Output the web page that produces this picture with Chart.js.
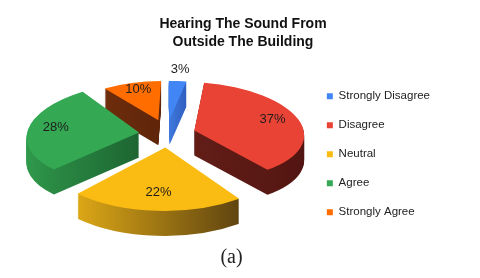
<!DOCTYPE html>
<html><head><meta charset="utf-8">
<script src="https://cdn.jsdelivr.net/npm/chart.js@4.4.1/dist/chart.umd.min.js"></script>
<style>
html,body{margin:0;padding:0;background:#fff;}
#wrap{position:relative;width:480px;height:278px;overflow:hidden;}
#cap{position:absolute;left:0;width:463px;top:243px;text-align:center;font-family:"Liberation Serif","Times New Roman",serif;font-size:20px;line-height:26px;color:#222;}
</style></head><body>
<div id="wrap"><canvas id="c" width="480" height="278"></canvas><div id="cap"></div></div>
<script>
// ---- data ----
const titleLines = ['Hearing The Sound From', 'Outside The Building'];
const categories = ['Strongly Disagree', 'Disagree', 'Neutral', 'Agree', 'Strongly Agree'];
const percentValues = [3, 37, 22, 28, 10];
const caption = '(a)';

// ---- styles ----
const topColors = ['#4285F4', '#E84335', '#FABC12', '#34A853', '#FF6D01'];
const wallStops = [
  ['#3f78dc', '#2f5fbf'],
  ['#621d17', '#521511'],
  ['#dca716', '#5f4410'],
  ['#309a4b', '#1d6532'],
  ['#6e2d0c', '#5f250a']
];
// 3D look: centre of explosion, explode distance, radius/aspect vs. depth, shear
const PIE = {cx: 167, cy: 133.5, explode: 28, kExplode: 0.5,
             rP: 113, rQ: -16.5, rS: -2.4, kBase: 0.455, kSlope: 0.045,
             shear: 0.23, depth: 25};

document.getElementById('cap').textContent = caption;

function sliceGeom(el) {
  const mid = (el.startAngle + el.endAngle) / 2;
  const back = -Math.sin(mid);             // +1 = far side, -1 = near side
  const rx = PIE.rP + PIE.rQ * back + PIE.rS * back * back;
  const ry = rx * (PIE.kBase - PIE.kSlope * back);
  const ax = PIE.cx + Math.cos(mid) * PIE.explode;
  const ay = PIE.cy + Math.sin(mid) * PIE.explode * PIE.kExplode;
  const sh = PIE.shear * Math.cos(mid);
  return {mid, rx, ry, ax, ay, sh};
}
function placeArc(ctx, el, g, d) {
  ctx.translate(g.ax, g.ay + d);
  ctx.transform(1, 0, g.sh, 1, 0, 0);
  ctx.scale(g.rx / el.outerRadius, g.ry / el.outerRadius);
  ctx.translate(-el.x, -el.y);
}

const pie3d = {
  id: 'pie3d',
  beforeDatasetsDraw(chart) {
    const ctx = chart.ctx;
    const arcs = chart.getDatasetMeta(0).data;
    // side walls
    arcs.forEach((el, i) => {
      const g = sliceGeom(el);
      let minX = 0, maxX = 0;
      for (let t = 0; t <= 24; t++) {
        const a = el.startAngle + (el.endAngle - el.startAngle) * t / 24;
        const x = Math.cos(a) * el.outerRadius;
        minX = Math.min(minX, x); maxX = Math.max(maxX, x);
      }
      for (let d = PIE.depth; d >= 1; d--) {
        ctx.save();
        placeArc(ctx, el, g, d);
        const grad = ctx.createLinearGradient(el.x + minX, 0, el.x + maxX + 0.01, 0);
        grad.addColorStop(0, wallStops[i][0]);
        grad.addColorStop(1, wallStops[i][1]);
        const tmp = Object.create(el);
        tmp.options = Object.assign({}, el.options, {backgroundColor: grad, borderWidth: 0});
        el.draw.call(tmp, ctx);
        ctx.restore();
      }
    });
    // top faces
    arcs.forEach((el) => {
      const g = sliceGeom(el);
      ctx.save();
      placeArc(ctx, el, g, 0);
      el.draw(ctx);
      ctx.restore();
    });
    return false;
  },
  afterDraw(chart) {
    const ctx = chart.ctx;
    const arcs = chart.getDatasetMeta(0).data;
    const vals = chart.data.datasets[0].data;
    ctx.save();
    ctx.font = '13px "Liberation Sans", Arial, sans-serif';
    ctx.fillStyle = '#1e1e1e';
    ctx.textAlign = 'center';
    ctx.textBaseline = 'middle';
    arcs.forEach((el, i) => {
      const g = sliceGeom(el);
      const outside = vals[i] < 5;
      const f = outside ? 1.3 : 0.75;
      const lx = Math.cos(g.mid) * g.rx * f;
      const ly = Math.sin(g.mid) * g.ry * f;
      ctx.fillText(vals[i] + '%', g.ax + lx + g.sh * ly, g.ay + ly + (outside ? 0 : -3));
    });
    ctx.restore();
  }
};

new Chart(document.getElementById('c'), {
  type: 'pie',
  data: {
    labels: categories,
    datasets: [{data: percentValues, backgroundColor: topColors, borderWidth: 0}]
  },
  options: {
    responsive: false,
    animation: false,
    events: [],
    layout: {padding: {left: 46, right: 40, top: 11, bottom: -19.5}},
    plugins: {
      title: {
        display: true,
        text: titleLines,
        color: '#111',
        font: {family: '"Liberation Sans", Arial, sans-serif', size: 14, weight: 'bold', lineHeight: 1.3},
        padding: {top: 4, bottom: 17}
      },
      legend: {
        position: 'right',
        align: 'center',
        labels: {
          boxWidth: 6, boxHeight: 6,
          color: '#222',
          padding: 17.5,
          font: {family: '"Liberation Sans", Arial, sans-serif', size: 11.5}
        }
      },
      tooltip: {enabled: false}
    }
  },
  plugins: [pie3d]
});
</script>
</body></html>
